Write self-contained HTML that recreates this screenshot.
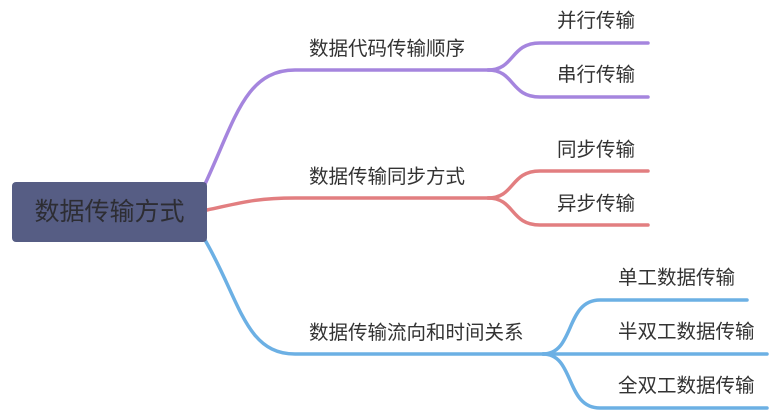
<!DOCTYPE html>
<html><head><meta charset="utf-8"><style>
body{margin:0;background:#fff;width:776px;height:419px;overflow:hidden;position:relative;font-family:"Liberation Sans","Noto Sans CJK SC",sans-serif;color:#333}
.t{position:absolute;font-size:19.5px;white-space:nowrap;line-height:22px}
.root{position:absolute;left:12px;top:182px;width:195px;height:60px;background:#565d84;border-radius:4px;font-size:25px;line-height:60px;text-align:center;color:#2d2d33}
</style></head><body>
<svg width="776" height="419" style="position:absolute;left:0;top:0" fill="none" stroke-width="3.5" stroke-linecap="round">
<g stroke="#a585de">
<path d="M205,184 C235,120 245,70 295,70 L490,70"/>
<path d="M488,70 C515,70 510,43 540,43 L648,43"/>
<path d="M488,70 C515,70 510,97 540,97 L648,97"/>
</g>
<g stroke="#e27e80">
<path d="M207,210 C240,203 255,198 295,198 L490,198"/>
<path d="M488,198 C515,198 510,171 540,171 L648,171"/>
<path d="M488,198 C515,198 510,225 540,225 L648,225"/>
</g>
<g stroke="#6cb0e4">
<path d="M205,240 C240,300 245,354 295,354 L545,354"/>
<path d="M543,354 C575,354 565,300 600,300 L747,300"/>
<path d="M543,354 L767,354"/>
<path d="M543,354 C575,354 565,408 600,408 L767,408"/>
</g>
</svg>
<div class="root">数据传输方式</div>
<div class="t" style="left:309px;top:38px">数据代码传输顺序</div>
<div class="t" style="left:557px;top:10px">并行传输</div>
<div class="t" style="left:557px;top:64px">串行传输</div>
<div class="t" style="left:309px;top:166px">数据传输同步方式</div>
<div class="t" style="left:557px;top:139px">同步传输</div>
<div class="t" style="left:557px;top:193px">异步传输</div>
<div class="t" style="left:309px;top:322px">数据传输流向和时间关系</div>
<div class="t" style="left:618px;top:267px">单工数据传输</div>
<div class="t" style="left:618px;top:321px">半双工数据传输</div>
<div class="t" style="left:618px;top:375px">全双工数据传输</div>
</body></html>
